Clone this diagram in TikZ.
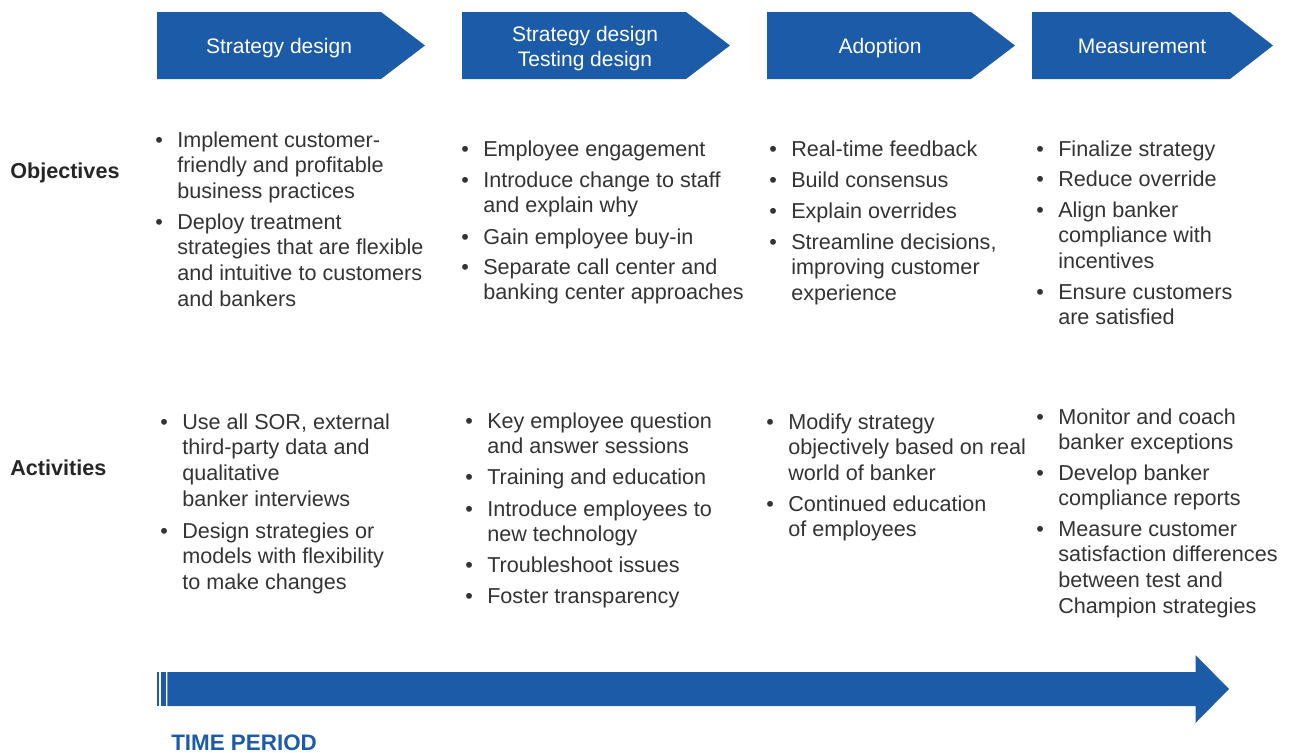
\documentclass[tikz,border=0pt]{standalone}
\usepackage{fontspec}
\setmainfont{Liberation Sans}
\definecolor{blu}{RGB}{28,91,168}
\definecolor{txt}{RGB}{51,51,51}
\newcommand{\bl}{\llap{\makebox[16.5pt][l]{•}}}
\newcommand{\itx}[1]{\begin{tabular}[t]{@{}l@{}}#1\end{tabular}}
\begin{document}
\begin{tikzpicture}[x=0.75pt,y=-0.75pt,
  chev/.style={fill=blu,draw=none},
  head/.style={text=white,font=\fontsize{15.75}{19}\selectfont,inner sep=0,anchor=base},
  itm/.style={text=txt,font=\fontsize{16.2}{19.4}\selectfont,inner sep=0,anchor=base west},
  lbl/.style={text=black!85,font=\bfseries\fontsize{16.2}{19}\selectfont,inner sep=0,anchor=base west}]
\useasboundingbox (0,0) rectangle (1292,753);
% header chevrons
\fill[chev] (157,12) -- (381,12) -- (425,45.5) -- (381,79) -- (157,79) -- cycle;
\fill[chev] (462,12) -- (686,12) -- (730,45.5) -- (686,79) -- (462,79) -- cycle;
\fill[chev] (767,12) -- (971,12) -- (1015,45.5) -- (971,79) -- (767,79) -- cycle;
\fill[chev] (1032,12) -- (1230,12) -- (1273,45.5) -- (1230,79) -- (1032,79) -- cycle;
\node[head] (h1) at (279,53) {Strategy design};
\node[head] (h2a) at (585,41) {Strategy design};
\node[head] (h2b) at (585,66) {Testing design};
\node[head] (h3) at (880,53) {Adoption};
\node[head] (h4) at (1142,53) {Measurement};
% row labels
\node[lbl] (lo) at (10,178) {Objectives};
\node[lbl] (la) at (10,475) {Activities};
% objectives
\node[itm] (o11) at (177,147) {\itx{\bl Implement customer-\\friendly and profitable\\business practices}};
\node[itm] (o12) at (177,229) {\itx{\bl Deploy treatment\\strategies that are flexible\\and intuitive to customers\\and bankers}};
\node[itm] (o21) at (483,156) {\itx{\bl Employee engagement}};
\node[itm] (o22) at (483,187) {\itx{\bl Introduce change to staff\\and explain why}};
\node[itm] (o23) at (483,244) {\itx{\bl Gain employee buy-in}};
\node[itm] (o24) at (483,274) {\itx{\bl Separate call center and\\banking center approaches}};
\node[itm] (o31) at (791,156) {\itx{\bl Real-time feedback}};
\node[itm] (o32) at (791,187) {\itx{\bl Build consensus}};
\node[itm] (o33) at (791,218) {\itx{\bl Explain overrides}};
\node[itm] (o34) at (791,249) {\itx{\bl Streamline decisions,\\improving customer\\experience}};
\node[itm] (o41) at (1058,156) {\itx{\bl Finalize strategy}};
\node[itm] (o42) at (1058,186) {\itx{\bl Reduce override}};
\node[itm] (o43) at (1058,217) {\itx{\bl Align banker\\compliance with\\incentives}};
\node[itm] (o44) at (1058,299) {\itx{\bl Ensure customers\\are satisfied}};
% activities
\node[itm] (a11) at (182,429) {\itx{\bl Use all SOR, external\\third-party data and\\qualitative\\banker interviews}};
\node[itm] (a12) at (182,538) {\itx{\bl Design strategies or\\models with flexibility\\to make changes}};
\node[itm] (a21) at (487,428) {\itx{\bl Key employee question\\and answer sessions}};
\node[itm] (a22) at (487,484) {\itx{\bl Training and education}};
\node[itm] (a23) at (487,516) {\itx{\bl Introduce employees to\\new technology}};
\node[itm] (a24) at (487,572) {\itx{\bl Troubleshoot issues}};
\node[itm] (a25) at (487,603) {\itx{\bl Foster transparency}};
\node[itm] (a31) at (788,429) {\itx{\bl Modify strategy\\objectively based on real\\world of banker}};
\node[itm] (a32) at (788,511) {\itx{\bl Continued education\\of employees}};
\node[itm] (a41) at (1058,424) {\itx{\bl Monitor and coach\\banker exceptions}};
\node[itm] (a42) at (1058,480) {\itx{\bl Develop banker\\compliance reports}};
\node[itm] (a43) at (1058,536) {\itx{\bl Measure customer\\satisfaction differences\\between test and\\Champion strategies}};
% time arrow
\fill[blu] (156.7,672) rectangle (159,706);
\fill[blu] (160.7,672) rectangle (165.7,706);
\fill[blu] (167.3,672) -- (1195.5,672) -- (1195.5,655) -- (1229,689) -- (1195.5,723) -- (1195.5,706) -- (167.3,706) -- cycle;
\node[text=blu,font=\bfseries\fontsize{16.8}{19}\selectfont,inner sep=0,anchor=base west] (tp) at (171,750) {TIME PERIOD};
\end{tikzpicture}
\end{document}
